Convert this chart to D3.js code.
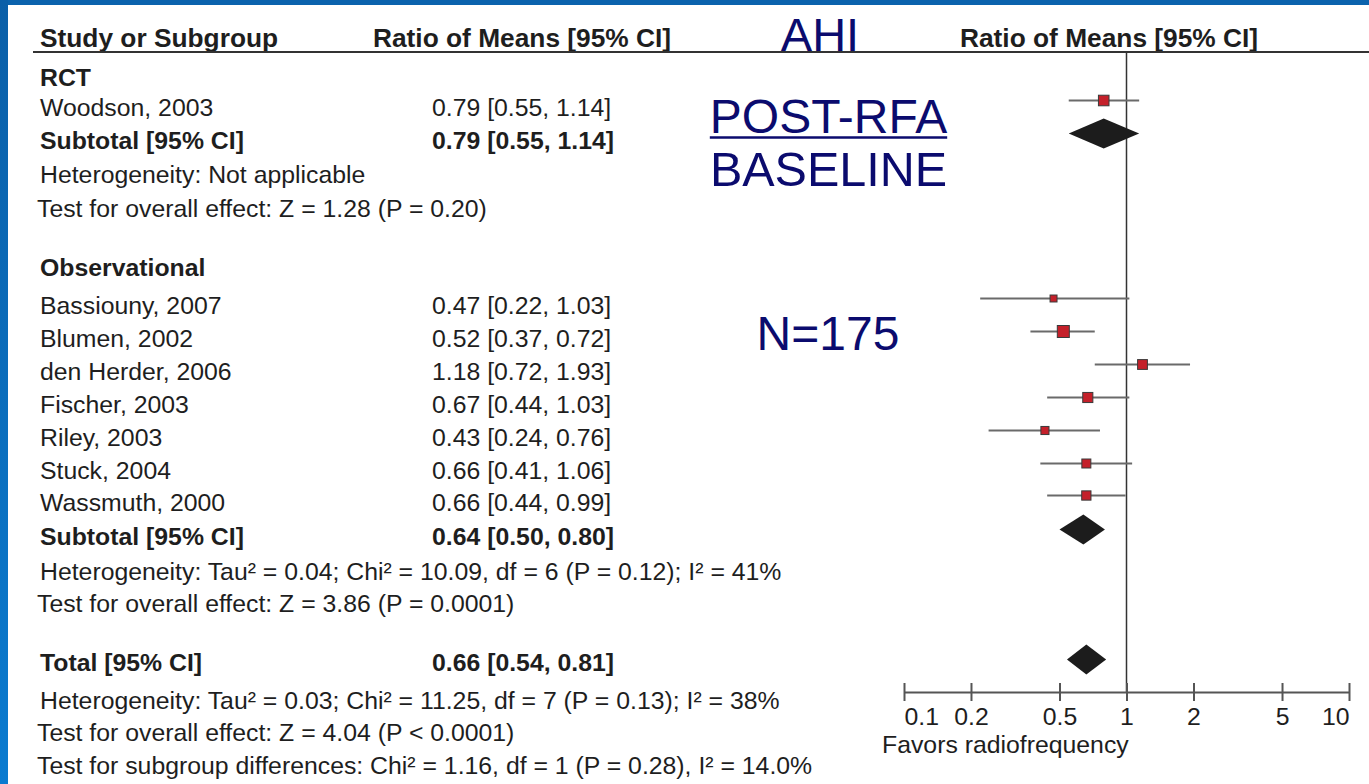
<!DOCTYPE html>
<html>
<head>
<meta charset="utf-8">
<script src="https://cdn.jsdelivr.net/npm/d3@7/dist/d3.min.js"></script>
<style>
  html, body { margin: 0; padding: 0; background: #fff; }
  svg { display: block; }
  text { font-family: "Liberation Sans", Arial, sans-serif; }
</style>
</head>
<body>
<svg id="chart" width="1369" height="784"></svg>
<script>
// ---- data -------------------------------------------------------------
const studies   = ["Woodson, 2003", "Bassiouny, 2007", "Blumen, 2002", "den Herder, 2006",
                   "Fischer, 2003", "Riley, 2003", "Stuck, 2004", "Wassmuth, 2000"];
const studyGroup = ["RCT", "Observational", "Observational", "Observational",
                    "Observational", "Observational", "Observational", "Observational"];
const ratio     = [0.79, 0.47, 0.52, 1.18, 0.67, 0.43, 0.66, 0.66];
const lower     = [0.55, 0.22, 0.37, 0.72, 0.44, 0.24, 0.41, 0.44];
const upper     = [1.14, 1.03, 0.72, 1.93, 1.03, 0.76, 1.06, 0.99];
const weightPct = [15.2, 6.6, 19.6, 13.1, 13.9, 8.9, 11.0, 11.7];

const pooledNames = ["Subtotal [95% CI]", "Subtotal [95% CI]", "Total [95% CI]"];
const pooledRatio = [0.79, 0.64, 0.66];
const pooledLower = [0.55, 0.50, 0.54];
const pooledUpper = [1.14, 0.80, 0.81];

const rctNotes   = ["Heterogeneity: Not applicable",
                    "Test for overall effect: Z = 1.28 (P = 0.20)"];
const obsNotes   = ["Heterogeneity: Tau\u00B2 = 0.04; Chi\u00B2 = 10.09, df = 6 (P = 0.12); I\u00B2 = 41%",
                    "Test for overall effect: Z = 3.86 (P = 0.0001)"];
const totalNotes = ["Heterogeneity: Tau\u00B2 = 0.03; Chi\u00B2 = 11.25, df = 7 (P = 0.13); I\u00B2 = 38%",
                    "Test for overall effect: Z = 4.04 (P < 0.0001)",
                    "Test for subgroup differences: Chi\u00B2 = 1.16, df = 1 (P = 0.28), I\u00B2 = 14.0%"];

const axisTicks  = [0.1, 0.2, 0.5, 1, 2, 5, 10];
const axisTickLabels = ["0.1", "0.2", "0.5", "1", "2", "5", "10"];
const headers = ["Study or Subgroup", "Ratio of Means [95% CI]", "Ratio of Means [95% CI]"];
const favorsLabel = "Favors radiofrequency";
const overlay = { title: "AHI", num: "POST-RFA", den: "BASELINE", n: "N=175" };

// ---- table layout (row order and baselines) ---------------------------
const fmt = d3.format(".2f");
const ci = (r, l, u) => `${fmt(r)} [${fmt(l)}, ${fmt(u)}]`;

const rows = [];
rows.push({ kind: "group", label: "RCT" });
studies.forEach((s, i) => { if (studyGroup[i] === "RCT") rows.push({ kind: "study", i }); });
rows.push({ kind: "pooled", p: 0 });
rctNotes.forEach((t, k) => rows.push({ kind: "note", label: t, test: k === 1 }));
rows.push({ kind: "group", label: "Observational" });
studies.forEach((s, i) => { if (studyGroup[i] === "Observational") rows.push({ kind: "study", i }); });
rows.push({ kind: "pooled", p: 1 });
obsNotes.forEach((t, k) => rows.push({ kind: "note", label: t, test: k === 1 }));
rows.push({ kind: "pooled", p: 2 });
totalNotes.forEach((t, k) => rows.push({ kind: "note", label: t, test: k > 0 }));

const rowBaseline = [86, 116, 149, 183, 217, 276, 314, 347, 380, 413, 446, 479, 511,
                     545, 580, 612, 671, 709, 741, 774];

// ---- drawing ----------------------------------------------------------
const svg = d3.select("#chart");
const W = 1369, H = 784;

// slide frame
const grad = svg.append("defs").append("linearGradient")
  .attr("id", "frameGrad").attr("x1", 0).attr("y1", 0).attr("x2", 0).attr("y2", 1);
grad.append("stop").attr("offset", "0%").attr("stop-color", "#0a5fa8");
grad.append("stop").attr("offset", "100%").attr("stop-color", "#0a7bd0");
svg.append("rect").attr("x", 0).attr("y", 0).attr("width", W).attr("height", 5).attr("fill", "#0b63ad");
svg.append("rect").attr("x", 0).attr("y", 0).attr("width", 8).attr("height", H).attr("fill", "url(#frameGrad)");

const textColor = "#1e1e1e";
const fontSize = 24.8;
const headSize = 26.3;
const xName = 40, xCI = 432;
const markShift = 15.5;

// header
const headerY = 47;
svg.append("text").attr("x", xName).attr("y", headerY).attr("font-size", headSize)
  .attr("font-weight", "bold").attr("fill", textColor).text(headers[0]);
svg.append("text").attr("x", 373).attr("y", headerY).attr("font-size", headSize)
  .attr("font-weight", "bold").attr("fill", textColor).text(headers[1]);
svg.append("text").attr("x", 960).attr("y", headerY).attr("font-size", headSize)
  .attr("font-weight", "bold").attr("fill", textColor).text(headers[2]);
svg.append("line").attr("x1", 33).attr("x2", W).attr("y1", 52).attr("y2", 52)
  .attr("stroke", "#333").attr("stroke-width", 2);

// log scale for the forest plot
const x = d3.scaleLog().domain([0.1, 10]).range([904, 1349]);
const size = d3.scaleSqrt().domain([0, d3.max(weightPct)]).range([0, 12]);
const axisY = 692;

// null line
svg.append("line").attr("x1", x(1)).attr("x2", x(1)).attr("y1", 52).attr("y2", axisY)
  .attr("stroke", "#333").attr("stroke-width", 1.5);

const g = svg.append("g");
rows.forEach((r, k) => {
  const y = rowBaseline[k];
  const my = y - markShift;
  if (r.kind === "group") {
    g.append("text").attr("x", xName).attr("y", y).attr("font-size", fontSize)
      .attr("font-weight", "bold").attr("fill", textColor).text(r.label);
  } else if (r.kind === "study") {
    const i = r.i;
    g.append("text").attr("x", xName).attr("y", y).attr("font-size", fontSize)
      .attr("fill", textColor).text(studies[i]);
    g.append("text").attr("x", xCI).attr("y", y).attr("font-size", fontSize)
      .attr("fill", textColor).text(ci(ratio[i], lower[i], upper[i]));
    g.append("line").attr("x1", x(lower[i])).attr("x2", x(upper[i]))
      .attr("y1", my).attr("y2", my).attr("stroke", "#6a6a6a").attr("stroke-width", 2);
    const s = size(weightPct[i]);
    g.append("rect").attr("x", x(ratio[i]) - s / 2).attr("y", my - s / 2)
      .attr("width", s).attr("height", s)
      .attr("fill", "#c4202a").attr("stroke", "#3a3a3a").attr("stroke-width", 1);
  } else if (r.kind === "pooled") {
    const p = r.p;
    g.append("text").attr("x", xName).attr("y", y).attr("font-size", fontSize)
      .attr("font-weight", "bold").attr("fill", textColor).text(pooledNames[p]);
    g.append("text").attr("x", xCI).attr("y", y).attr("font-size", fontSize)
      .attr("font-weight", "bold").attr("fill", textColor)
      .text(ci(pooledRatio[p], pooledLower[p], pooledUpper[p]));
    // the overall diamond sits a little lower within its row
    const dy = p === 2 ? my + 4 : my;
    const h = 15;
    const pts = [[x(pooledLower[p]), dy], [x(pooledRatio[p]), dy - h],
                 [x(pooledUpper[p]), dy], [x(pooledRatio[p]), dy + h]];
    g.append("path").attr("d", d3.line()(pts) + "Z").attr("fill", "#1c1c1c");
  } else {
    g.append("text").attr("x", r.test ? 37 : xName).attr("y", y).attr("font-size", fontSize)
      .attr("fill", textColor).text(r.label);
  }
});

// axis
const axis = d3.axisBottom(x).tickValues(axisTicks)
  .tickFormat((d, i) => axisTickLabels[i]).tickSize(0).tickPadding(0);
const ag = svg.append("g").attr("transform", `translate(0,${axisY})`).call(axis);
ag.select(".domain").attr("stroke", "#555").attr("stroke-width", 2);
ag.selectAll(".tick line").attr("y1", -9).attr("y2", 9).attr("stroke", "#555").attr("stroke-width", 2);
const last = axisTicks.length - 1;
ag.selectAll(".tick text").attr("dy", 0).attr("y", 33).attr("font-size", fontSize)
  .attr("font-family", "Liberation Sans, Arial, sans-serif").attr("fill", textColor)
  .attr("text-anchor", (d, i) => i === 0 ? "start" : i === last ? "end" : "middle");
svg.append("text").attr("x", 882).attr("y", 753).attr("font-size", fontSize)
  .attr("fill", textColor).text(favorsLabel);

// annotation
const navy = "#0b0b6e";
svg.append("text").attr("x", 820).attr("y", 51).attr("text-anchor", "middle")
  .attr("font-size", 47).attr("fill", navy).text(overlay.title);
const numText = svg.append("text").attr("x", 828.5).attr("y", 133).attr("text-anchor", "middle")
  .attr("font-size", 48).attr("fill", navy).text(overlay.num);
const nb = numText.node().getBBox();
svg.append("line").attr("x1", nb.x).attr("x2", nb.x + nb.width).attr("y1", 137.5).attr("y2", 137.5)
  .attr("stroke", navy).attr("stroke-width", 2.5);
svg.append("text").attr("x", 828.5).attr("y", 186).attr("text-anchor", "middle")
  .attr("font-size", 48.5).attr("fill", navy).text(overlay.den);
svg.append("text").attr("x", 828).attr("y", 350).attr("text-anchor", "middle")
  .attr("font-size", 48).attr("fill", navy).text(overlay.n);
</script>
</body>
</html>
